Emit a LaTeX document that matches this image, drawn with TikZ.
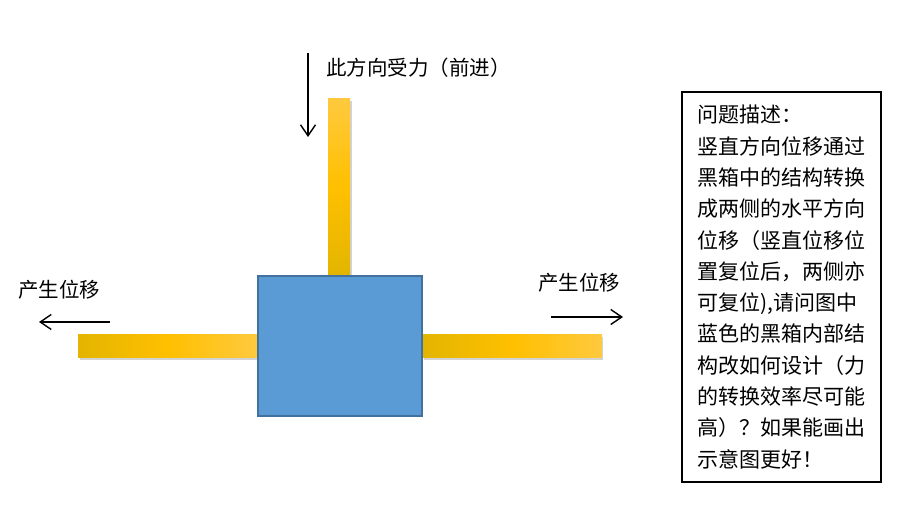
\documentclass[tikz,border=0pt]{standalone}
\usepackage{fontspec}
\setmainfont{Noto Sans CJK SC}
\usetikzlibrary{positioning}
\usetikzlibrary{shadows}
\usetikzlibrary{arrows.meta}

\definecolor{barlight}{HTML}{FFC93F}
\definecolor{barmid}{HTML}{FFC000}
\definecolor{bardark}{HTML}{E3B500}
\definecolor{boxblue}{HTML}{5B9BD5}
\definecolor{boxedge}{HTML}{41719C}

\begin{document}
\begin{tikzpicture}[x=1pt,y=-1pt,>={Straight Barb[length=11pt,width=15pt]},
	bar/.style={inner sep=0pt,draw=none,
		drop shadow={opacity=0.35,shadow xshift=1.5pt,shadow yshift=-2.5pt}},
	vbar/.style={bar,minimum width=22pt,minimum height=177pt,
		top color=barlight,bottom color=bardark,middle color=barmid},
	hbar/.style={bar,minimum width=179pt,minimum height=22pt,
		left color=bardark,right color=barlight,middle color=barmid},
	blackbox/.style={rectangle,fill=boxblue,draw=boxedge,line width=1.5pt,
		minimum width=164pt,minimum height=140pt},
	lbl/.style={inner sep=0pt,font=\fontsize{20.5}{24}\selectfont},
	move/.style={->,line width=1.4pt},
	descbox/.style={rectangle,draw,line width=1.4pt,minimum width=199pt,
		minimum height=390pt,align=left,inner xsep=15pt,
		font=\fontsize{21}{31.3}\selectfont}]

	\useasboundingbox (0,0) rectangle (915,510);

	% black box and the three bars
	\node[blackbox] (box) at (340,346) {};
	\node[vbar,anchor=south] (topbar) at ([xshift=-1pt]box.north) {};
	\node[hbar,anchor=east] (leftbar) at (box.west) {};
	\node[hbar,anchor=west] (rightbar) at (box.east) {};
	\node[blackbox] at (box) {};

	% force and displacement arrows
	\coordinate (ftop) at (308,53);
	\coordinate (fbot) at (308,137);
	\coordinate (lfrom) at (110,322);
	\coordinate (lto) at (39,322);
	\coordinate (rfrom) at (551,317);
	\coordinate (rto) at (623,317);
	\draw[move] (ftop) -- (fbot);
	\draw[move] (lfrom) -- (lto);
	\draw[move] (rfrom) -- (rto);

	\node[lbl,anchor=west] (force) at (326,68) {此方向受力（前进）};
	\node[lbl] (lmove) at (59,290) {产生位移};
	\node[lbl] (rmove) at (579,283) {产生位移};

	% question
	\node[descbox] (desc) at (781.5,287) {问题描述：\\
		竖直方向位移通过\\
		黑箱中的结构转换\\
		成两侧的水平方向\\
		位移（竖直位移位\\
		置复位后，两侧亦\\
		可复位),请问图中\\
		蓝色的黑箱内部结\\
		构改如何设计（力\\
		的转换效率尽可能\\
		高）？如果能画出\\
		示意图更好！};
\end{tikzpicture}
\end{document}
